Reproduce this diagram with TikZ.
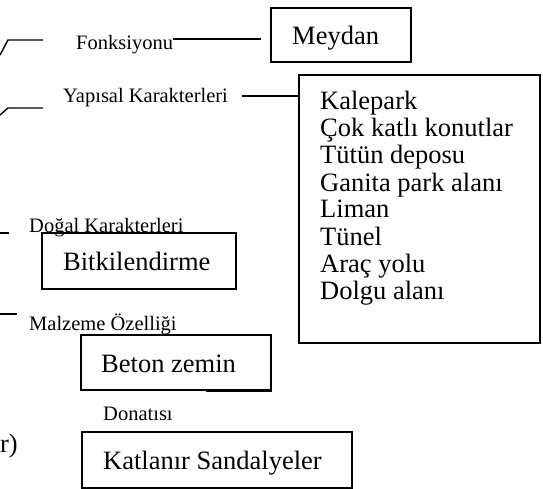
\documentclass[tikz,border=0pt]{standalone}
\usepackage{fontspec}
\setmainfont{Liberation Serif}
\tikzset{
  bigtxt/.style={font=\fontsize{26.5}{29}\selectfont, inner sep=0pt},
  smalltxt/.style={font=\fontsize{20.5}{23}\selectfont, inner sep=0pt},
  boxnode/.style={draw, line width=1.6pt, inner sep=0pt},
  ln/.style={line width=1.4pt}
}
\begin{document}
\begin{tikzpicture}[x=1pt,y=-1pt]
\useasboundingbox (0,0) rectangle (543,489);
% boxes
\node[boxnode, minimum width=140pt, minimum height=54pt] (meydan) at (341,35) {};
\node[boxnode, minimum width=194pt, minimum height=56pt] (bitki) at (139,261) {};
\node[boxnode, minimum width=190pt, minimum height=55pt] (beton) at (176,362.5) {};
\node[boxnode, minimum width=270pt, minimum height=56pt] (katla) at (217,460) {};
\node[draw, line width=2.2pt, minimum width=241pt, minimum height=268pt, inner sep=0pt] (listbox) at (419.5,209) {};
% box texts
\node[bigtxt, anchor=base west] (tmeydan) at (292,45) {Meydan};
\node[bigtxt, anchor=base west] (tbitki) at (63,270) {Bitkilendirme};
\node[bigtxt, anchor=base west] (tbeton) at (101,372) {Beton zemin};
\node[bigtxt, anchor=base west] (tkatla) at (103,469) {Katlanır Sandalyeler};
% list items
\foreach \t [count=\i] in {Kalepark, Çok katlı konutlar, Tütün deposu, Ganita park alanı, Liman, Tünel, Araç yolu, Dolgu alanı}{
  \node[bigtxt, anchor=base west] (item\i) at (320, {110+27*(\i-1)}) {\t};
}
% small labels
\node[smalltxt, anchor=base west] (fonk) at (76,50) {Fonksiyonu};
\node[smalltxt, anchor=base west] (yap) at (63,103) {Yapısal Karakterleri};
\node[smalltxt, anchor=base west] (dogal) at (29,232) {Doğal Karakterleri};
\node[smalltxt, anchor=base west] (malz) at (29,330) {Malzeme Özelliği};
\node[smalltxt, anchor=base west] (donat) at (103,420) {Donatısı};
\node[bigtxt, anchor=base east] (rpar) at (18,452) {r)};
% connectors
\draw[ln] (fonk.east |- 0,39) -- ([xshift=-9pt]meydan.west |- 0,39);
\draw[ln] ([xshift=14pt]yap.east |- 0,96) -- (listbox.west |- 0,96);
\coordinate (a0) at (0,55); \coordinate (a1) at (8,40); \coordinate (a2) at (43,40);
\draw[ln] (a0) -- (a1) -- (a2);
\coordinate (b0) at (0,115); \coordinate (b1) at (8,108); \coordinate (b2) at (43,108);
\draw[ln] (b0) -- (b1) -- (b2);
\coordinate (c0) at (0,233); \coordinate (c1) at (9,233);
\draw[ln] (c0) -- (c1);
\coordinate (d0) at (0,314); \coordinate (d1) at (17,314);
\draw[ln] (d0) -- (d1);
\draw[line width=2.6pt] (beton.south east) -- ++(-66,0);
\end{tikzpicture}
\end{document}
